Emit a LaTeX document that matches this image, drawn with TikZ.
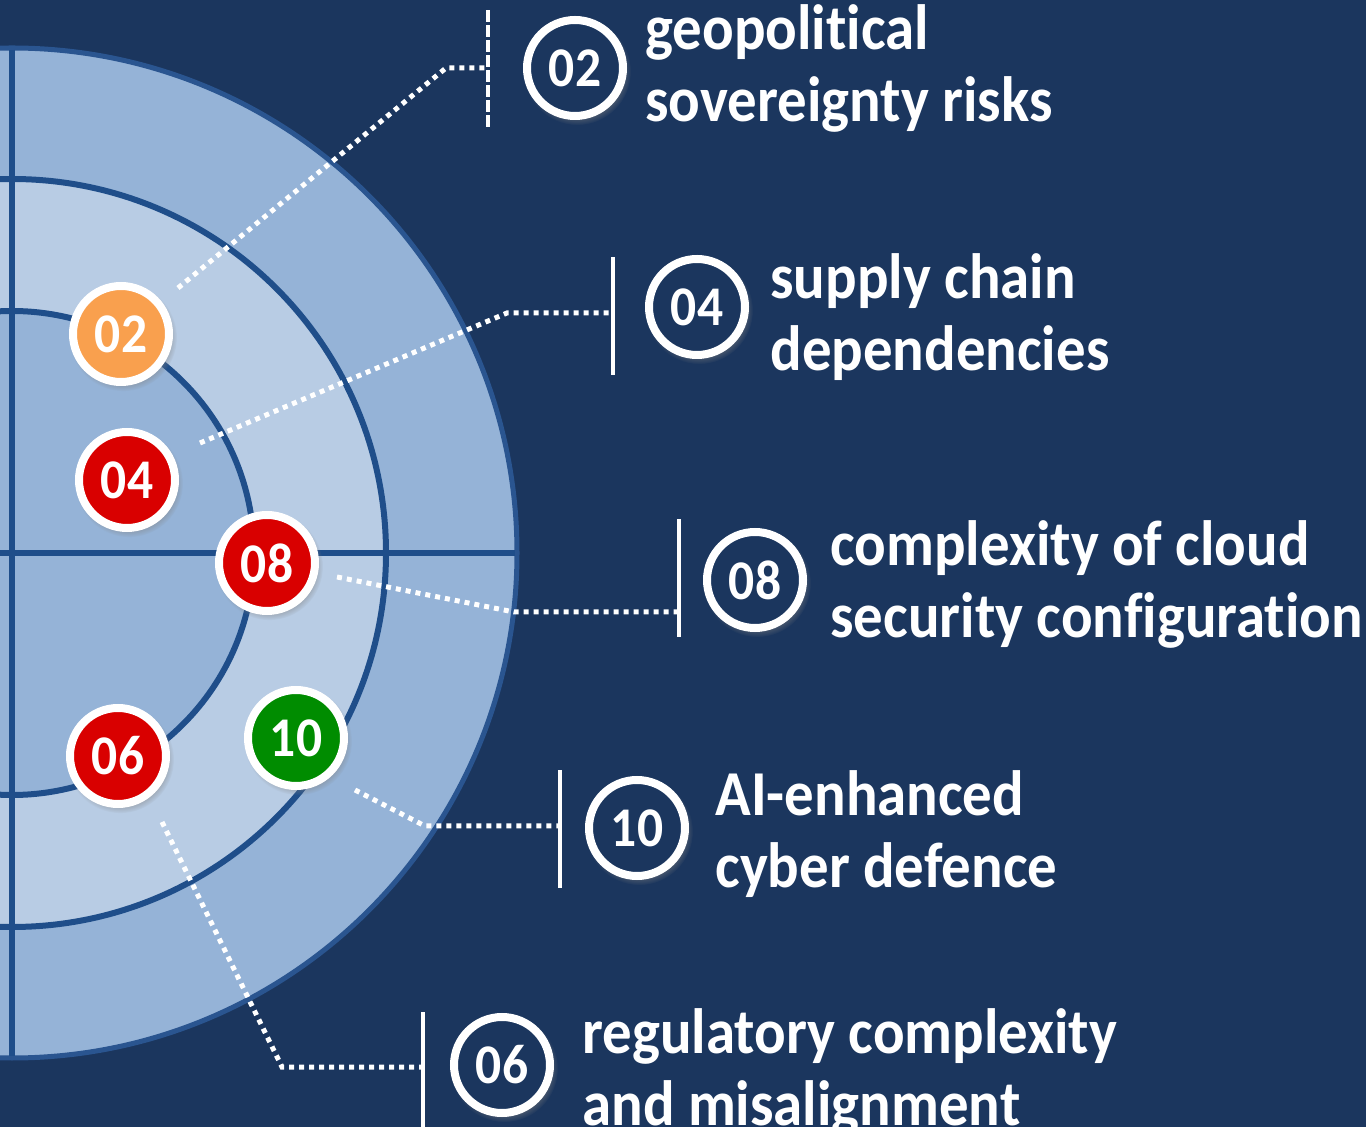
\documentclass[tikz,border=0pt]{standalone}
\usepackage{fontspec}
\setmainfont{Carlito}[FakeStretch=0.92, Ligatures=NoCommon]
\usepackage{xcolor}
\usetikzlibrary{shadows}

\definecolor{bgnavy}{HTML}{1B365E}
\definecolor{bandmid}{HTML}{95B3D7}
\definecolor{bandlight}{HTML}{B8CCE4}
\definecolor{gridblue}{HTML}{1F4E8A}
\definecolor{rimblue}{HTML}{2A5590}
\definecolor{riskorange}{HTML}{F9A04E}
\definecolor{riskred}{HTML}{D90000}
\definecolor{riskgreen}{HTML}{008C00}

\begin{document}
\begin{tikzpicture}[x=0.5pt, y=-0.5pt,
  dot/.style={circle, draw=white, line width=4pt, minimum size=48pt, inner sep=0pt, text=white,
    font=\fontsize{28}{28}\selectfont\bfseries,
    circular drop shadow={shadow xshift=1pt, shadow yshift=-1.5pt, shadow scale=1.12, opacity=0.5}},
  num/.style={dot, fill=bgnavy},
  desc/.style={anchor=west, align=left, inner sep=0pt, text=white, font=\fontsize{32}{36}\selectfont\bfseries},
  tick/.style={inner sep=0pt, minimum width=0pt, minimum height=58.5pt},
  bar/.style={white, line width=2pt},
  link/.style={white, line width=2.5pt, dash pattern=on 2.5pt off 2.5pt}
]
  \useasboundingbox (0,0) rectangle (1366,1127);
  \fill[bgnavy] (0,0) rectangle (1366,1127);
  \clip (0,0) rectangle (1366,1127);

  % radar bands and axes
  \coordinate (o) at (12,553);
  \fill[bandmid] (o) circle (503);
  \fill[bandlight] (o) circle (374);
  \fill[bandmid] (o) circle (242);
  \draw[rimblue, line width=2.5pt] (o) circle (505);
  \draw[gridblue, line width=3pt] (o) circle (374) (o) circle (242);
  \draw[gridblue, line width=3pt] (12,50) -- (12,1056) (-10,553) -- (515,553);

  % ticks in front of the labels
  \node[tick] (k02) at (488,69) {};
  \node[tick] (k04) at (613,316) {};
  \node[tick] (k08) at (679,578) {};
  \node[tick] (k10) at (560,829) {};
  \node[tick] (k06) at (423,1071) {};
  \draw[bar, dash pattern=on 6pt off 1.5pt] (k02.north) -- (k02.south);
  \draw[bar] (k04.north) -- (k04.south);
  \draw[bar] (k08.north) -- (k08.south);
  \draw[bar] (k10.north) -- (k10.south);
  \draw[bar] (k06.north) -- (k06.south);

  % dotted leaders
  \coordinate (s02) at (178,288);  \coordinate (c02) at (446,68);
  \coordinate (s04) at (200,443);  \coordinate (c04) at (507,313);
  \coordinate (s08) at (337,577);  \coordinate (c08) at (514,612);
  \coordinate (s10) at (355,790);  \coordinate (c10) at (425,826);
  \coordinate (s06) at (162,822);  \coordinate (c06) at (282,1067);
  \draw[link] (s02) -- (c02) -- (k02 |- c02);
  \draw[link] (s04) -- (c04) -- (k04 |- c04);
  \draw[link] (s08) -- (c08) -- (k08 |- c08);
  \draw[link] (s10) -- (c10) -- (k10 |- c10);
  \draw[link] (s06) -- (c06) -- (k06 |- c06);

  % risks on the radar
  \node[dot, fill=riskorange] (m02) at (121,334) {02};
  \node[dot, fill=riskred] (m04) at (127,480) {04};
  \node[dot, fill=riskred] (m08) at (267,563) {08};
  \node[dot, fill=riskred] (m06) at (118,756) {06};
  \node[dot, fill=riskgreen] (m10) at (296,738) {10};

  % legend
  \node[num] (n02) at (575,68) {02};
  \node[num] (n04) at (697,307) {04};
  \node[num] (n08) at (755,580) {08};
  \node[num] (n10) at (637,828) {10};
  \node[num] (n06) at (502,1065) {06};
  \node[desc] (d02) at (645,68) {geopolitical\\sovereignty risks};
  \node[desc] (d04) at (770,317) {supply chain\\dependencies};
  \node[desc] (d08) at (830,584) {complexity of cloud\\security configuration};
  \node[desc] (d10) at (715,834) {AI-enhanced\\cyber defence};
  \node[desc] (d06) at (582,1072) {regulatory complexity\\and misalignment};
\end{tikzpicture}
\end{document}
